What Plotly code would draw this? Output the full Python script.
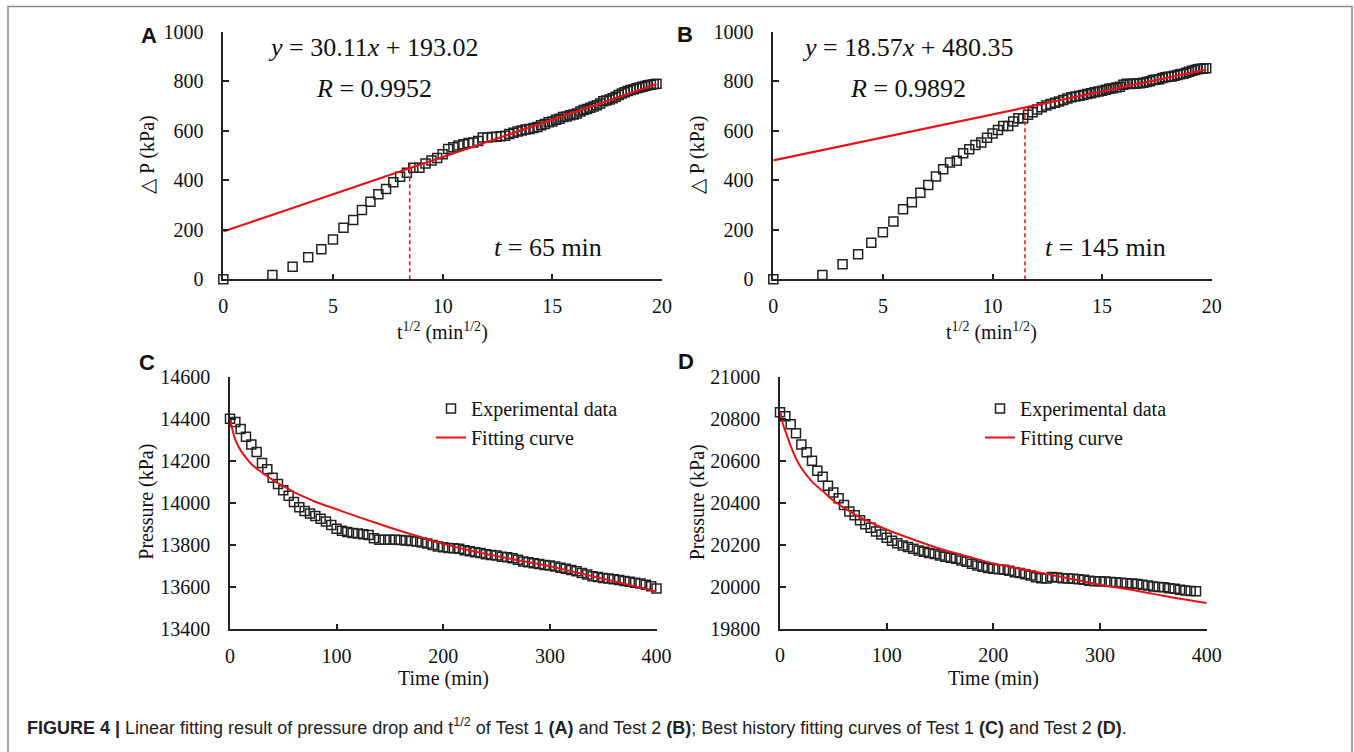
import plotly.graph_objects as go

W, H = 1354, 752

# ---------------- data ----------------
# Panel A / C (Test 1) and B / D (Test 2): time samples in minutes
time_ab = [0, 5, 10, 15, 20, 25, 30, 35, 40, 45, 50, 55, 60, 65, 70, 75, 80, 85, 90, 95,
           100, 105, 110, 115, 120, 125, 130, 135, 140, 145, 150, 155, 160, 165, 170, 175,
           180, 185, 190, 195, 200, 205, 210, 215, 220, 225, 230, 235, 240, 245, 250, 255,
           260, 265, 270, 275, 280, 285, 290, 295, 300, 305, 310, 315, 320, 325, 330, 335,
           340, 345, 350, 355, 360, 365, 370, 375, 380, 385, 390]

sqrt_t_ab = [0.00, 2.24, 3.16, 3.87, 4.47, 5.00, 5.48, 5.92, 6.32, 6.71, 7.07, 7.42, 7.75,
             8.06, 8.37, 8.66, 8.94, 9.22, 9.49, 9.75, 10.00, 10.25, 10.49, 10.72, 10.95,
             11.18, 11.40, 11.62, 11.83, 12.04, 12.25, 12.45, 12.65, 12.85, 13.04, 13.23,
             13.42, 13.60, 13.78, 13.96, 14.14, 14.32, 14.49, 14.66, 14.83, 15.00, 15.17,
             15.33, 15.49, 15.65, 15.81, 15.97, 16.12, 16.28, 16.43, 16.58, 16.73, 16.88,
             17.03, 17.18, 17.32, 17.46, 17.61, 17.75, 17.89, 18.03, 18.17, 18.30, 18.44,
             18.57, 18.71, 18.84, 18.97, 19.10, 19.24, 19.36, 19.49, 19.62, 19.75]

dp_test1 = [0, 17, 51, 89, 121, 161, 208, 240, 280, 313, 343, 365, 392, 414, 430, 451, 451,
            468, 480, 490, 505, 526, 533, 540, 545, 550, 553, 559, 573, 573, 575, 576, 578,
            580, 587, 592, 597, 601, 605, 607, 611, 615, 622, 627, 634, 637, 644, 648, 655,
            658, 663, 666, 670, 678, 684, 688, 693, 698, 703, 710, 719, 722, 726, 731, 737,
            744, 750, 755, 760, 765, 768, 772, 775, 778, 781, 784, 786, 788, 790]

dp_test2 = [0, 17, 61, 101, 148, 190, 233, 283, 311, 350, 381, 415, 444, 472, 479, 509, 525,
            542, 552, 572, 589, 603, 619, 619, 637, 650, 650, 665, 675, 686, 695, 702, 708,
            713, 718, 724, 730, 735, 738, 741, 744, 748, 751, 755, 758, 762, 766, 770, 772,
            775, 778, 786, 790, 789, 790, 791, 792, 794, 797, 800, 805, 806, 808, 813, 816,
            818, 819, 822, 825, 828, 830, 834, 838, 842, 845, 848, 850, 851, 852]

# Linear fits (A: y = 30.11x + 193.02, B: y = 18.57x + 480.35)
fitA_x = [0, 19.75]
fitA_y = [193.0, 787.7]
fitB_x = [0, 19.75]
fitB_y = [480.4, 847.1]

# Dashed markers of the departure point
dashA_x = [8.5, 8.5]
dashA_y = [0, 468]
dashB_x = [11.48, 11.48]
dashB_y = [0, 690]

# Panel C: Test 1 history
time_c = [0, 5, 10, 15, 20, 25, 30, 35, 40, 45, 50, 55, 60, 65, 70, 75, 80, 85, 90, 95, 100,
          105, 110, 115, 120, 125, 130, 135, 140, 145, 150, 155, 160, 165, 170, 175, 180, 185,
          190, 195, 200, 205, 210, 215, 220, 225, 230, 235, 240, 245, 250, 255, 260, 265, 270,
          275, 280, 285, 290, 295, 300, 305, 310, 315, 320, 325, 330, 335, 340, 345, 350, 355,
          360, 365, 370, 375, 380, 385, 390, 395, 400]
pres_c = [14400, 14385, 14352, 14315, 14278, 14242, 14190, 14160, 14120, 14090, 14060, 14035,
          14005, 13980, 13962, 13950, 13938, 13925, 13912, 13895, 13878, 13868, 13862, 13858,
          13855, 13852, 13848, 13832, 13826, 13826, 13826, 13825, 13824, 13822, 13820, 13817,
          13812, 13808, 13800, 13793, 13790, 13786, 13785, 13783, 13776, 13771, 13766, 13762,
          13757, 13753, 13750, 13745, 13742, 13738, 13730, 13722, 13718, 13714, 13710, 13706,
          13703, 13698, 13692, 13688, 13682, 13676, 13668, 13660, 13652, 13648, 13644, 13641,
          13638, 13634, 13630, 13626, 13621, 13617, 13612, 13604, 13594]
fitc_t = [0, 2, 5, 10, 15, 20, 30, 40, 50, 60, 70, 80, 100, 120, 140, 160, 180, 200, 220,
          240, 260, 280, 300, 320, 340, 360, 380, 400]
fitc_p = [14400, 14355, 14300, 14250, 14215, 14185, 14145, 14110, 14080, 14052, 14028, 14006,
          13970, 13934, 13900, 13867, 13836, 13806, 13780, 13758, 13738, 13719, 13700, 13676,
          13652, 13628, 13604, 13580]

# Panel D: Test 2 history
time_d = time_ab
pres_d = [20830, 20812, 20773, 20731, 20677, 20640, 20600, 20552, 20523, 20480, 20448, 20421,
          20389, 20358, 20340, 20316, 20297, 20280, 20262, 20248, 20232, 20218, 20206, 20196,
          20188, 20180, 20172, 20166, 20160, 20155, 20148, 20142, 20137, 20132, 20124, 20118,
          20108, 20100, 20094, 20088, 20085, 20082, 20080, 20075, 20068, 20064, 20058, 20053,
          20044, 20040, 20038, 20046, 20043, 20040, 20038, 20037, 20035, 20032, 20028, 20025,
          20025, 20024, 20022, 20020, 20018, 20016, 20015, 20012, 20009, 20005, 20000, 19998,
          19996, 19992, 19989, 19985, 19981, 19979, 19978]
fitd_t = [0, 3, 6, 10, 15, 20, 30, 40, 50, 60, 70, 80, 100, 125, 150, 175, 200, 225, 250,
          275, 300, 325, 350, 375, 400]
fitd_p = [20830, 20770, 20728, 20670, 20610, 20565, 20500, 20455, 20410, 20375, 20344, 20318,
          20272, 20224, 20180, 20145, 20110, 20085, 20060, 20035, 20008, 19988, 19965, 19942,
          19922]

# Text
eqA = "<i>y</i> = 30.11<i>x</i> + 193.02"
rA = "<i>R</i> = 0.9952"
tA = "<i>t</i> = 65 min"
eqB = "<i>y</i> = 18.57<i>x</i> + 480.35"
rB = "<i>R</i> = 0.9892"
tB = "<i>t</i> = 145 min"
caption = ("<b>FIGURE 4 |</b> Linear fitting result of pressure drop and t<sup>1/2</sup> of Test 1 "
           "<b>(A)</b> and Test 2 <b>(B)</b>; Best history fitting curves of Test 1 <b>(C)</b> "
           "and Test 2 <b>(D)</b>.")

# ---------------- styling helpers ----------------
RED = "rgb(232,18,22)"
INK = "#222222"
SERIF = "Liberation Serif"


def px(x):
    return x / W


def py(y):
    return 1 - y / H


def axis(dom, rng, dtick, anchor, horizontal):
    d = dict(domain=dom, range=rng, dtick=dtick, tick0=rng[0], anchor=anchor,
             showline=True, linecolor=INK, linewidth=1.5, ticks="inside", ticklen=6,
             tickwidth=1.5, tickcolor=INK, showgrid=False, zeroline=False, tickformat="d",
             automargin=False,
             tickfont=dict(family=SERIF, size=20, color="#111"), fixedrange=True)
    d["ticklabelstandoff"] = 8 if horizontal else 14
    return d


fig = go.Figure()

marker = dict(symbol="square-open", size=9, color=INK, line=dict(width=1.5, color=INK))

# A
fig.add_trace(go.Scatter(x=sqrt_t_ab, y=dp_test1, mode="markers", marker=marker,
                         xaxis="x", yaxis="y", showlegend=False, cliponaxis=False))
fig.add_trace(go.Scatter(x=fitA_x, y=fitA_y, mode="lines", line=dict(color=RED, width=2.2),
                         xaxis="x", yaxis="y", showlegend=False, cliponaxis=False))
fig.add_trace(go.Scatter(x=dashA_x, y=dashA_y, mode="lines",
                         line=dict(color=RED, width=1.5, dash="4px,3px"),
                         xaxis="x", yaxis="y", showlegend=False))
# B
fig.add_trace(go.Scatter(x=sqrt_t_ab, y=dp_test2, mode="markers", marker=marker,
                         xaxis="x2", yaxis="y2", showlegend=False, cliponaxis=False))
fig.add_trace(go.Scatter(x=fitB_x, y=fitB_y, mode="lines", line=dict(color=RED, width=2.2),
                         xaxis="x2", yaxis="y2", showlegend=False, cliponaxis=False))
fig.add_trace(go.Scatter(x=dashB_x, y=dashB_y, mode="lines",
                         line=dict(color=RED, width=1.5, dash="4px,3px"),
                         xaxis="x2", yaxis="y2", showlegend=False))
# C
fig.add_trace(go.Scatter(x=time_c, y=pres_c, mode="markers", marker=marker,
                         name="Experimental data", legend="legend",
                         xaxis="x3", yaxis="y3", cliponaxis=False))
fig.add_trace(go.Scatter(x=fitc_t, y=fitc_p, mode="lines", line=dict(color=RED, width=2, shape="spline"),
                         name="Fitting curve", legend="legend",
                         xaxis="x3", yaxis="y3", cliponaxis=False))
# D
fig.add_trace(go.Scatter(x=time_d, y=pres_d, mode="markers", marker=marker,
                         name="Experimental data", legend="legend2",
                         xaxis="x4", yaxis="y4", cliponaxis=False))
fig.add_trace(go.Scatter(x=fitd_t, y=fitd_p, mode="lines", line=dict(color=RED, width=2, shape="spline"),
                         name="Fitting curve", legend="legend2",
                         xaxis="x4", yaxis="y4", cliponaxis=False))

legend_style = dict(font=dict(family=SERIF, size=20, color="#111"), bgcolor="rgba(0,0,0,0)",
                    borderwidth=0, itemwidth=30, tracegroupgap=0, xanchor="left",
                    yanchor="top", traceorder="normal")

annotations = []


def ann(text, x, y, size, family=SERIF, angle=0, xanchor="center"):
    annotations.append(dict(text=text, x=px(x), y=py(y), xref="paper", yref="paper",
                            showarrow=False, xanchor=xanchor, yanchor="middle",
                            textangle=angle,
                            font=dict(family=family, size=size, color="#111")))


# equations
ann(eqA, 373, 48, 26)
ann(rA, 374, 88, 26)
ann(tA, 548, 248, 26)
ann(eqB, 907, 48, 26)
ann(rB, 908, 88, 26)
ann(tB, 1105, 248, 26)
# axis titles
ann("t<sup>1/2</sup> (min<sup>1/2</sup>)", 442.6, 331, 20)
ann("t<sup>1/2</sup> (min<sup>1/2</sup>)", 992, 331, 20)
ann("Time (min)", 443, 678, 20)
ann("Time (min)", 993.5, 678, 20)
ann("△ P (kPa)", 148, 155, 20, angle=-90)
ann("△ P (kPa)", 698.3, 155, 20, angle=-90)
ann("Pressure (kPa)", 146.7, 502, 20, angle=-90)
ann("Pressure (kPa)", 698.3, 502, 20, angle=-90)
# panel letters
for letter, lx, ly in [("A", 148.5, 35), ("B", 685, 34), ("C", 147, 362), ("D", 686, 361)]:
    ann("<b>%s</b>" % letter, lx, ly, 22, family="Liberation Sans")
# caption
annotations.append(dict(text=caption, x=px(25), y=py(726), xref="paper", yref="paper",
                        showarrow=False, xanchor="left", yanchor="middle",
                        font=dict(family="Liberation Sans", size=18, color="#222")))

fig.update_layout(
    width=W, height=H, margin=dict(l=0, r=0, t=0, b=0, pad=0, autoexpand=False),
    paper_bgcolor="white", plot_bgcolor="white",
    xaxis=axis([px(223.3), px(662)], [0, 20], 5, "y", True),
    yaxis=axis([py(279.3), py(31.7)], [0, 1000], 200, "x", False),
    xaxis2=axis([px(773.3), px(1211.7)], [0, 20], 5, "y2", True),
    yaxis2=axis([py(279.3), py(31.7)], [0, 1000], 200, "x2", False),
    xaxis3=axis([px(230), px(656.5)], [0, 400], 100, "y3", True),
    yaxis3=axis([py(629.3), py(376.7)], [13400, 14600], 200, "x3", False),
    xaxis4=axis([px(780), px(1206.7)], [0, 400], 100, "y4", True),
    yaxis4=axis([py(628.5), py(376.7)], [19800, 21000], 200, "x4", False),
    legend=dict(x=px(431), y=py(389), **legend_style),
    legend2=dict(x=px(980), y=py(389), **legend_style),
    annotations=annotations,
    shapes=[dict(type="rect", xref="paper", yref="paper", x0=px(8), x1=px(1352),
                 y0=-0.05, y1=py(6.5), line=dict(color="#8a8a8a", width=1.5),
                 fillcolor="rgba(0,0,0,0)", layer="below")],
)

fig.write_html("out.html",
               config={"displayModeBar": False},
               post_script="document.body.style.margin='0';"
                           "document.body.style.overflow='hidden';"
                           "document.documentElement.style.overflow='hidden';")
